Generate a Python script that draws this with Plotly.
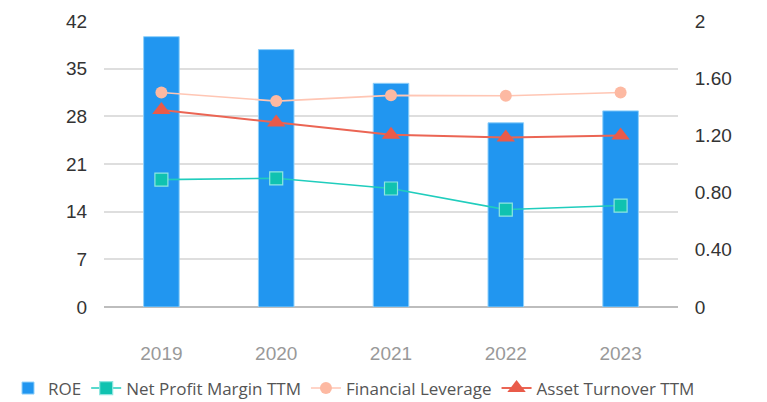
import plotly.graph_objects as go

years = ["2019", "2020", "2021", "2022", "2023"]
roe = [39.7, 37.8, 32.85, 27.05, 28.8]
net_profit_margin = [18.7, 18.9, 17.4, 14.3, 14.9]
financial_leverage = [1.50, 1.44, 1.48, 1.477, 1.50]
asset_turnover = [1.377, 1.29, 1.205, 1.185, 1.20]

left_ticks = [0, 7, 14, 21, 28, 35, 42]
right_ticks = [0, 0.4, 0.8, 1.2, 1.6, 2]
right_tick_text = ["0", "0.40", "0.80", "1.20", "1.60", "2"]

fig = go.Figure()
fig.add_trace(go.Bar(
    x=years, y=roe, name="ROE", width=0.31,
    marker=dict(color="#2196F0", line=dict(color="#8fd0fa", width=1)),
))
fig.add_trace(go.Scatter(
    x=years, y=net_profit_margin, name="Net Profit Margin TTM", mode="lines+markers",
    line=dict(color="#20CDBD", width=1.6),
    marker=dict(symbol="square", size=13, color="#10C2B0", line=dict(color="#8EE6E0", width=1.2)),
))
fig.add_trace(go.Scatter(
    x=years, y=financial_leverage, name="Financial Leverage", mode="lines+markers", yaxis="y2",
    line=dict(color="#FFC6B4", width=1.6),
    marker=dict(symbol="circle", size=12, color="#FDB9A2"),
))
fig.add_trace(go.Scatter(
    x=years, y=asset_turnover, name="Asset Turnover TTM", mode="lines+markers", yaxis="y2",
    line=dict(color="#EB6554", width=2),
    marker=dict(symbol="triangle-up", size=16, color="#E95B4A"),
))

FIG_W, FIG_H = 759, 394
L, R, T, B = 96, 0, 13, 95
PLOT_W = 574
paper_w = FIG_W - L - R

fig.update_layout(
    width=FIG_W, height=FIG_H,
    margin=dict(l=L, r=R, t=T, b=B, autoexpand=False),
    plot_bgcolor="white", paper_bgcolor="white",
    font=dict(family="Liberation Sans, Arial", size=19, color="#333333"),
    showlegend=True,
    xaxis=dict(
        type="category", domain=[0, PLOT_W / paper_w],
        showgrid=False, showline=False, zeroline=False, automargin=False,
        ticks="outside", ticklen=29, tickcolor="rgba(0,0,0,0)",
        tickfont=dict(color="#999999", size=19),
    ),
    yaxis=dict(
        range=[0, 42], tickvals=left_ticks, showgrid=True, gridcolor="#dedede", gridwidth=2,
        zeroline=True, zerolinecolor="#bdbdbd", zerolinewidth=2, automargin=False,
        ticks="outside", ticklen=12, tickcolor="rgba(0,0,0,0)",
        tickfont=dict(color="#333333", size=19),
    ),
    yaxis2=dict(
        range=[0, 2], tickvals=right_ticks, ticktext=right_tick_text, overlaying="y", side="right",
        anchor="x", showgrid=False, zeroline=False, automargin=False,
        ticks="outside", ticklen=12, tickcolor="rgba(0,0,0,0)",
        tickfont=dict(color="#333333", size=19),
    ),
    legend=dict(
        orientation="h", x=-L / paper_w, xanchor="left", y=-0.285, yanchor="middle",
        font=dict(family="Open Sans", size=17, color="#555555"),
        itemwidth=30, tracegroupgap=0,
    ),
)

fig.write_html("out.html")
